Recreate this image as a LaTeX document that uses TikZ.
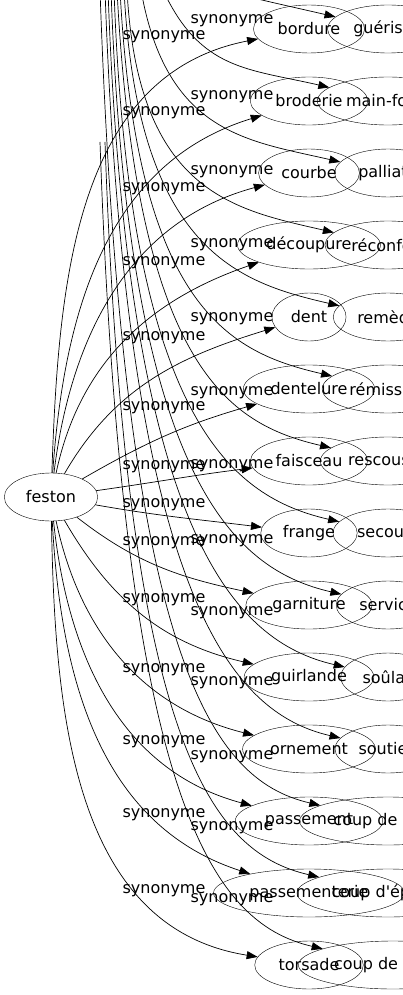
\documentclass[tikz,border=0pt]{standalone}
\usepackage{fontspec}
\setmainfont{DejaVu Sans}
\usetikzlibrary{arrows.meta}
\usetikzlibrary{shapes.geometric}

\begin{document}
\begin{tikzpicture}[x=1pt,y=1pt,
		mot/.style={draw, ellipse, minimum height=48pt, inner xsep=8pt, inner ysep=0pt, font=\fontsize{16}{19}\selectfont},
		etiq/.style={inner sep=0pt, font=\fontsize{16}{19}\selectfont},
		fleche/.style={-{Triangle[length=11pt,width=8pt]}, line width=0.7pt}]
		
		\useasboundingbox (0,0) rectangle (403,-995);
		\clip (0,0) rectangle (403,-995);
		
		\node[mot] (feston) at (51,-497) {feston};
		
		% les deux colonnes de mots
		\foreach \i/\a/\b/\c/\o/\n in {1/bordure/guérison/388/88/191, 2/broderie/main-forte/388/86/197,
			3/courbe/palliatif/388/83/195, 4/découpure/réconfort/388/78/199, 5/dent/remède/388/60/197,
			6/dentelure/rémission/388/30/196, 7/faisceau/rescousse/388/8/187, 8/frange/secours/388/-10/173,
			9/garniture/service/388/-38/168, 10/guirlande/soûlas/388/-60/167, 11/ornement/soutien/388/-78/166,
			12/passement/coup de main/388/-84/165, 13/passementerie/coup d\textquotesingle épaule/388/-87/162,
			14/torsade/coup de pouce/393/-89/171}{
			\node[mot] (s\i) at (309,{-29-72*(\i-1)}) {\a};
			\node[mot] (r\i) at (\c,{-29-72*(\i-1)}) {\b};
			\draw[fleche] (feston) to[out=\o,in=\n] (s\i);
		}
		
		% les liens qui viennent d'en haut
		\foreach \i/\x/\y/\o in {1/230/8/-15, 2/163/10/-65, 3/141/10/-80, 4/127/10/-87,
			5/124/10/-87, 6/120/10/-87, 7/117/10/-87, 8/114/10/-88, 9/111/10/-88,
			10/108/10/-88, 11/105/10/-88, 12/100/10/-88, 13/105/-142/-88, 14/100/-142/-88}{
			\pgfmathsetmacro\dv{0.8*(29+72*(\i-1)+\y)}
			\pgfmathsetmacro\dh{0.5*(330-\x)}
			\coordinate (h\i) at (\x,\y);
			\draw[fleche] (h\i) to[out=\o,in=167,out distance=\dv pt,in distance=\dh pt] (r\i);
		}
		
		% etiquettes
		\foreach \y [count=\k] in {37,113,189,263,338,408,467,505,543,600,670,742,815,891}
		\node[etiq] (ga\k) at (164,-\y) {synonyme};
		\foreach \y [count=\k] in {21,97,172,245,319,393,466,541,613,683,757,828,900}
		\node[etiq] (dr\k) at (232,-\y) {synonyme};
		
	\end{tikzpicture}
\end{document}
